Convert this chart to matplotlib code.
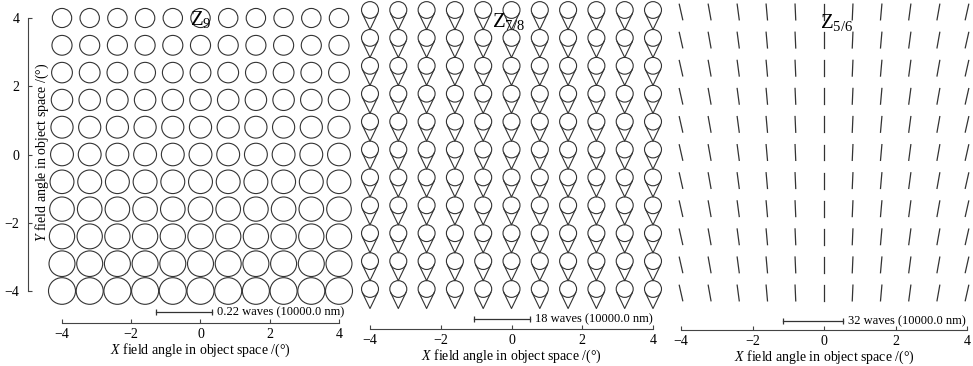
import numpy as np
import matplotlib
matplotlib.use("Agg")
import matplotlib.pyplot as plt
from matplotlib.patches import Circle

plt.rcParams['font.family'] = ['Liberation Serif', 'DejaVu Serif']
plt.rcParams['mathtext.fontset'] = 'custom'
plt.rcParams['mathtext.rm'] = 'Liberation Serif'
plt.rcParams['mathtext.it'] = 'Liberation Serif:italic'

# field grid points (deg) and axis ticks
field = [-4, -3.2, -2.4, -1.6, -0.8, 0, 0.8, 1.6, 2.4, 3.2, 4]
ticks = [-4, -2, 0, 2, 4]

# Z9: spot radius per row, top row (y=4) first, in deg
z9_radius = [0.28, 0.29, 0.30, 0.31, 0.32, 0.33, 0.345, 0.355, 0.365, 0.375, 0.39]

# Z7/8: coma spot, circle radius and tail length (deg)
coma_radius = 0.24
coma_tail = 0.56

# Z5/6: line tilt from vertical per column (deg), left column first
astig_tilt = [-12.5, -10, -7.5, -5, -2.5, 0, 2.5, 5, 7.5, 10, 12.5]
astig_len = 0.45

titles = [r"$\mathrm{Z}_{9}$", r"$\mathrm{Z}_{7/8}$", r"$\mathrm{Z}_{5/6}$"]
scale_text = ["0.22 waves (10000.0 nm)", "18 waves (10000.0 nm)", "32 waves (10000.0 nm)"]

ink = '#333333'
W, H = 973, 366
fig = plt.figure(figsize=(W / 100, H / 100), dpi=100)


def px_axes(x0, x1, ytop, ybot):
    return fig.add_axes([x0 / W, 1 - ybot / H, (x1 - x0) / W, (ybot - ytop) / H])


ax1 = px_axes(62, 339, 18, 291)
ax2 = px_axes(370, 653, 10, 289)
ax3 = px_axes(681, 967, 12, 293)

# panel 1: Z9 circles
for i, y in enumerate(field[::-1]):
    for x in field:
        ax1.add_patch(Circle((x, y), z9_radius[i], fill=False, ec=ink, lw=0.8, clip_on=False))

# panel 2: coma spots
a = np.arcsin(coma_radius / coma_tail)
s = np.sqrt(coma_tail ** 2 - coma_radius ** 2)
for y in field:
    for x in field:
        ax2.add_patch(Circle((x, y), coma_radius, fill=False, ec=ink, lw=0.8, clip_on=False))
        tx, ty = x, y - coma_tail
        ax2.plot([tx - s * np.sin(a), tx, tx + s * np.sin(a)],
                 [ty + s * np.cos(a), ty, ty + s * np.cos(a)],
                 color=ink, lw=0.8, clip_on=False)

# panel 3: astigmatism lines
for y in field:
    for j, x in enumerate(field):
        t = np.radians(astig_tilt[j])
        dx, dy = astig_len / 2 * np.sin(t), astig_len / 2 * np.cos(t)
        ax3.plot([x + dx, x - dx], [y + dy, y - dy], color=ink, lw=0.9, clip_on=False)

# titles and scale bars
title_pos = [(-0.30, 3.79), (-0.55, 3.51), (-0.11, 3.54)]
bar_pos = [(-1.285, 0.332, -4.615), (-1.06, 0.523, -4.86), (-1.147, 0.531, -4.80)]
outward = [32 * 0.72, 40 * 0.72, 37 * 0.72]

for k, ax in enumerate([ax1, ax2, ax3]):
    ax.set_xlim(-4, 4)
    ax.set_ylim(-4, 4)
    ax.set_facecolor('none')
    for sp in ['top', 'right']:
        ax.spines[sp].set_visible(False)
    ax.spines['bottom'].set_position(('outward', outward[k]))
    ax.spines['bottom'].set_bounds(-4, 4)
    ax.spines['bottom'].set_color('#444444')
    ax.spines['bottom'].set_linewidth(0.8)
    ax.set_xticks(ticks)
    ax.tick_params(axis='x', direction='in', length=3, width=0.8, color='#444444',
                   labelsize=10, pad=3.5)
    ax.set_xlabel("$X$ field angle in object space /(°)", fontsize=10, labelpad=0.5)

    ax.text(title_pos[k][0], title_pos[k][1], titles[k], fontsize=15,
            ha='left', va='baseline')

    x0, x1, yb = bar_pos[k]
    ax.plot([x0, x1], [yb, yb], color=ink, lw=0.9, marker='|', ms=4, mew=0.9, clip_on=False)
    ax.text(x1 + 0.14, yb, scale_text[k], fontsize=9, ha='left', va='center')

ax1.spines['left'].set_position(('outward', 34 * 0.72))
ax1.spines['left'].set_bounds(-4, 4)
ax1.spines['left'].set_color('#444444')
ax1.spines['left'].set_linewidth(0.8)
ax1.set_yticks(ticks)
ax1.tick_params(axis='y', direction='in', length=3, width=0.8, color='#444444',
                labelsize=10, pad=6)
ax1.set_ylabel("$Y$ field angle in object space /(°)", fontsize=10)
ax1.yaxis.set_label_coords(-0.07, 0.51)
ax1.yaxis.label.set_verticalalignment('center')

for ax in [ax2, ax3]:
    ax.spines['left'].set_visible(False)
    ax.set_yticks([])

fig.savefig("out.png", dpi=100)
